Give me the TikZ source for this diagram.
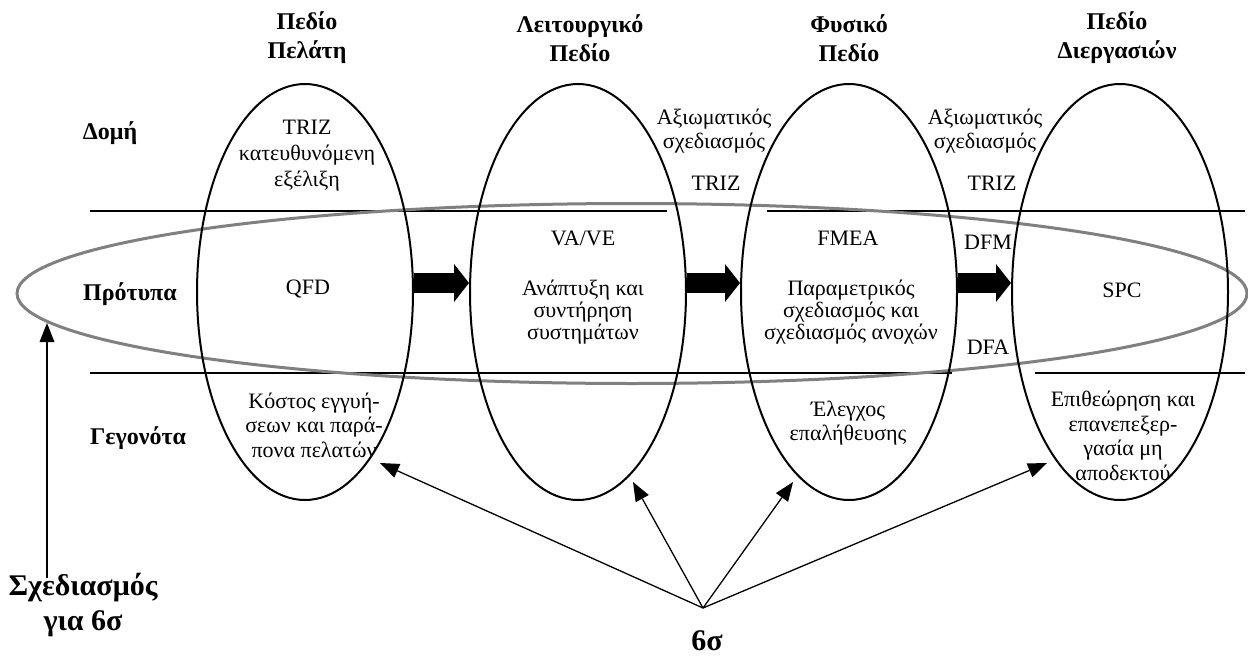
\documentclass[tikz,border=0pt]{standalone}
\usepackage{fontspec}
\setmainfont{Liberation Serif}
\usetikzlibrary{shapes.geometric,arrows.meta,calc}
\definecolor{ringgray}{RGB}{128,128,128}
\begin{document}
\begin{tikzpicture}[x=1pt,y=-1pt,
  domainbox/.style={draw, ellipse, line width=2pt, minimum width=216pt, minimum height=416pt, inner sep=0pt},
  ringbox/.style={draw=ringgray, ellipse, line width=3pt, minimum width=1230pt, minimum height=180pt, inner sep=0pt},
  txt/.style={align=center, font=\fontsize{22}{24.5}\selectfont, inner sep=1pt},
  tighttxt/.style={align=center, font=\fontsize{22}{22}\selectfont, inner sep=1pt},
  loosetxt/.style={align=center, font=\fontsize{22}{26}\selectfont, inner sep=1pt},
  headtxt/.style={align=center, font=\bfseries\fontsize{24}{29}\selectfont, inner sep=1pt},
  rowtxt/.style={font=\bfseries\fontsize{24}{29}\selectfont, inner sep=1pt},
  bigtxt/.style={align=center, font=\bfseries\fontsize{30}{35}\selectfont, inner sep=1pt},
  rulestroke/.style={line width=1.4pt},
  flowarrow/.style={line width=20pt, -{Triangle[width=38pt,length=15pt,line width=0pt]}},
  ptrarrow/.style={line width=1.3pt, -{Triangle[width=15pt,length=19pt,line width=0pt]}},
]
\useasboundingbox (0,0) rectangle (1248,656);

% horizontal rules separating the three rows
\draw[rulestroke] (90,211) -- (667,211);
\draw[rulestroke] (767,211) -- (1245,211);
\draw[rulestroke] (90,373) -- (952,373);
\draw[rulestroke] (1035,373) -- (1245,373);

% grey ring around the row of models
\node[ringbox] (models) at (632,293.5) {};

% the four domains
\node[domainbox] (e1) at (305,292) {};
\node[domainbox] (e2) at (578,292) {};
\node[domainbox] (e3) at (849,292) {};
\node[domainbox] (e4) at (1120,292) {};

% block arrows between domains
\draw[flowarrow] ($(e1.east)+(0,-9)$) -- ($(e2.west)+(0,-9)$);
\draw[flowarrow] ($(e2.east)+(0,-9)$) -- ($(e3.west)+(0,-9)$);
\draw[flowarrow] ($(e3.east)+(0,-9)$) -- ($(e4.west)+(0,-9)$);

% column headings
\node[headtxt] (h1) at (307,38) {Πεδίο\\Πελάτη};
\node[headtxt] (h2) at (580,38) {Λειτουργικό\\Πεδίο};
\node[headtxt] (h3) at (849,38) {Φυσικό\\Πεδίο};
\node[headtxt] (h4) at (1117,38) {Πεδίο\\Διεργασιών};

% row labels
\node[rowtxt] (r1) at (110,133) {Δομή};
\node[rowtxt] (r2) at (130,294) {Πρότυπα};
\node[rowtxt] (r3) at (138,438) {Γεγονότα};

% customer domain
\node[loosetxt] (c1) at (307,156) {TRIZ\\κατευθυνόμενη\\εξέλιξη};
\node[txt] (c2) at (308,289) {QFD};
\node[txt] (c3) at (314,425) {Κόστος εγγυή-\\σεων και παρά-\\πονα πελατών};

% functional domain
\node[txt] (f1) at (583,238) {VA/VE};
\node[tighttxt] (f2) at (583,312) {Ανάπτυξη και\\συντήρηση\\συστημάτων};

% physical domain
\node[txt] (p1) at (848,238) {FMEA};
\node[tighttxt] (p2) at (851,312) {Παραμετρικός\\σχεδιασμός και\\σχεδιασμός ανοχών};
\node[txt] (p3) at (848,423) {Έλεγχος\\επαλήθευσης};

% process domain
\node[txt] (s1) at (1122,290) {SPC};
\node[txt] (s2) at (1123,436) {Επιθεώρηση και\\επανεπεξερ-\\γασία μη\\αποδεκτού};

% tools between the domains
\node[txt] (a1) at (714,131) {Αξιωματικός\\σχεδιασμός};
\node[txt] (t1) at (716,183) {TRIZ};
\node[txt] (a2) at (985,131) {Αξιωματικός\\σχεδιασμός};
\node[txt] (t2) at (992,183) {TRIZ};
\node[txt] (dfm) at (988,242) {DFM};
\node[txt] (dfa) at (988,347) {DFA};

% six sigma and its pointers
\node[bigtxt] (six) at (707,641) {6σ};
\coordinate (apex) at (703,608);
\coordinate (g1) at (380,463);
\coordinate (g2) at (633,482);
\coordinate (g3) at (793,482);
\coordinate (g4) at (1047,463);
\draw[ptrarrow] (apex) -- (g1);
\draw[ptrarrow] (apex) -- (g2);
\draw[ptrarrow] (apex) -- (g3);
\draw[ptrarrow] (apex) -- (g4);

% design for six sigma
\node[bigtxt] (dfss) at (83,605) {Σχεδιασμός\\για 6σ};
\coordinate (up) at (47,323);
\draw[ptrarrow] ($(up |- dfss.north)+(0,6)$) -- (up);
\end{tikzpicture}
\end{document}
